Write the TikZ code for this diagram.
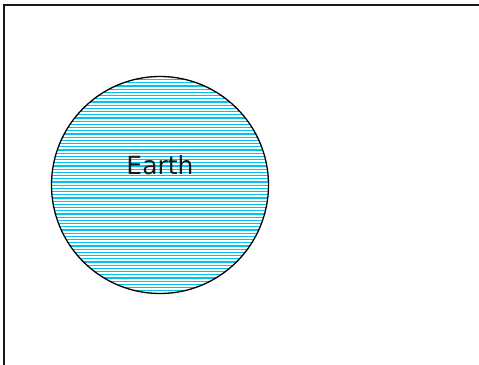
\documentclass[tikz,border=0pt]{standalone}
\usepackage{fontspec}
\setmainfont{DejaVu Sans}
\definecolor{hatch}{RGB}{0,195,240}
\begin{document}
\begin{tikzpicture}[x=1pt,y=1pt,
  frame/.style={draw=black!90,line width=2pt},
  planet/.style={circle,draw=black,line width=1.3pt,minimum size=217pt,inner sep=0pt},
  hatchline/.style={draw=hatch,line width=1.1pt},
  lbl/.style={font=\fontsize{25}{28}\selectfont,text=black!90}]
\useasboundingbox (0,0) rectangle (479,364);
\begin{scope}
\clip (0,0) rectangle (479,364);
\draw[frame] (3.5,-10) -- (3.5,359) -- (490,359);
\end{scope}
\begin{scope}
\clip (160,179) circle (108.5);
\foreach \i in {0,...,70} {
  \draw[hatchline] (40,{70+\i*3.2}) -- (280,{70+\i*3.2});
}
\end{scope}
\node[planet] (earth) at (160,179) {};
\node[lbl] (earthlabel) at (160,199) {Earth};
\end{tikzpicture}
\end{document}
